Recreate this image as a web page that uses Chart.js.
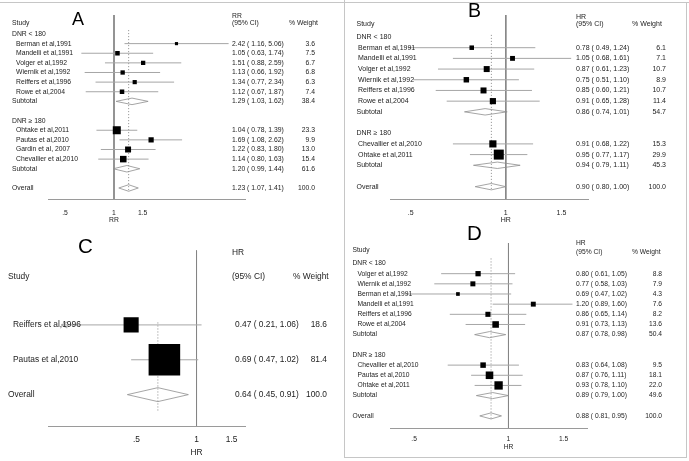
<!DOCTYPE html>
<html>
<head>
<meta charset="utf-8">
<script src="https://cdn.jsdelivr.net/npm/chart.js@4.4.1/dist/chart.umd.min.js"></script>
<style>
  body { margin: 0; background: #fff; }
  #page { position: relative; width: 689px; height: 461px; overflow: hidden; }
  canvas { position: absolute; }
  .rule { position: absolute; background: #c6c6c6; }
</style>
</head>
<body>
<div id="page">
  <div class="rule" style="left:0;top:2px;width:689px;height:1px"></div>
  <div class="rule" style="left:344px;top:0;width:1px;height:458px"></div>
  <div class="rule" style="left:686px;top:2px;width:1px;height:456px"></div>
  <div class="rule" style="left:344px;top:457px;width:343px;height:1px"></div>
  <canvas id="panelA" width="344" height="232" style="left:0;top:0"></canvas>
  <canvas id="panelB" width="344" height="228" style="left:345px;top:0"></canvas>
  <canvas id="panelC" width="344" height="233" style="left:0;top:228px"></canvas>
  <canvas id="panelD" width="344" height="243" style="left:345px;top:218px"></canvas>
</div>
<script>
// x axis ticks (log scale)
const xTicks = [0.5, 1, 1.5];
const xTickLabels = ['.5', '1', '1.5'];

// A - RR
const aLabels = ['DNR < 180', 'Berman et al,1991', 'Mandelli et al,1991', 'Volger et al,1992', 'Wiernik et al,1992', 'Reiffers et al,1996', 'Rowe et al,2004', 'Subtotal', '', 'DNR \u2265 180', 'Ohtake et al,2011', 'Pautas et al,2010', 'Gardin et al, 2007', 'Chevallier et al,2010', 'Subtotal', '', 'Overall'];
const aEst    = [null, 2.42, 1.05, 1.51, 1.13, 1.34, 1.12, 1.29, null, null, 1.04, 1.69, 1.22, 1.14, 1.20, null, 1.23];
const aLow    = [null, 1.16, 0.63, 0.88, 0.66, 0.77, 0.67, 1.03, null, null, 0.78, 1.08, 0.83, 0.80, 0.99, null, 1.07];
const aHigh   = [null, 5.06, 1.74, 2.59, 1.92, 2.34, 1.87, 1.62, null, null, 1.39, 2.62, 1.80, 1.63, 1.44, null, 1.41];
const aWeight = [null, 3.6, 7.5, 6.7, 6.8, 6.3, 7.4, 38.4, null, null, 23.3, 9.9, 13.0, 15.4, 61.6, null, 100.0];

// B - HR
const bLabels = ['DNR < 180', 'Berman et al,1991', 'Mandelli et al,1991', 'Volger et al,1992', 'Wiernik et al,1992', 'Reiffers et al,1996', 'Rowe et al,2004', 'Subtotal', '', 'DNR \u2265 180', 'Chevallier et al,2010', 'Ohtake et al,2011', 'Subtotal', '', 'Overall'];
const bEst    = [null, 0.78, 1.05, 0.87, 0.75, 0.85, 0.91, 0.86, null, null, 0.91, 0.95, 0.94, null, 0.90];
const bLow    = [null, 0.49, 0.68, 0.61, 0.51, 0.60, 0.65, 0.74, null, null, 0.68, 0.77, 0.79, null, 0.80];
const bHigh   = [null, 1.24, 1.61, 1.23, 1.10, 1.21, 1.28, 1.01, null, null, 1.22, 1.17, 1.11, null, 1.00];
const bWeight = [null, 6.1, 7.1, 10.7, 8.9, 10.7, 11.4, 54.7, null, null, 15.3, 29.9, 45.3, null, 100.0];

// C - HR
const cLabels = ['Reiffers et al,1996', 'Pautas et al,2010', 'Overall'];
const cEst    = [0.47, 0.69, 0.64];
const cLow    = [0.21, 0.47, 0.45];
const cHigh   = [1.06, 1.02, 0.91];
const cWeight = [18.6, 81.4, 100.0];
const cArrowLow = [true, false, false];

// D - HR
const dLabels = ['DNR < 180', 'Volger et al,1992', 'Wiernik et al,1992', 'Berman et al,1991', 'Mandelli et al,1991', 'Reiffers et al,1996', 'Rowe et al,2004', 'Subtotal', '', 'DNR \u2265 180', 'Chevallier et al,2010', 'Pautas et al,2010', 'Ohtake et al,2011', 'Subtotal', '', 'Overall'];
const dEst    = [null, 0.80, 0.77, 0.69, 1.20, 0.86, 0.91, 0.87, null, null, 0.83, 0.87, 0.93, 0.89, null, 0.88];
const dLow    = [null, 0.61, 0.58, 0.47, 0.89, 0.65, 0.73, 0.78, null, null, 0.64, 0.76, 0.78, 0.79, null, 0.81];
const dHigh   = [null, 1.05, 1.03, 1.02, 1.60, 1.14, 1.13, 0.98, null, null, 1.08, 1.11, 1.10, 1.00, null, 0.95];
const dWeight = [null, 8.8, 7.9, 4.3, 7.6, 8.2, 13.6, 50.4, null, null, 9.5, 18.1, 22.0, 49.6, null, 100.0];

const FONT = '"Liberation Sans", Arial, sans-serif';
const INK = '#1c1c1c';

function isPooled(name) {
  return name === 'Subtotal' || name === 'Overall';
}

// small "<" used where a CI runs past the plotted range
function makeArrowHead() {
  const c = document.createElement('canvas');
  c.width = 14;
  c.height = 8;
  const g = c.getContext('2d');
  g.strokeStyle = '#9a9a9a';
  g.lineWidth = 1;
  g.beginPath();
  g.moveTo(13, 1);
  g.lineTo(7, 4);
  g.lineTo(13, 7);
  g.stroke();
  return c;
}
const arrowHead = makeArrowHead();

function forestPlot(canvasId, labels, est, low, high, weight, look, arrows) {
  const ciPts = [];
  const boxPts = [];
  const diamondPts = [];
  const arrowPts = [];
  const last = labels.length - 1;

  labels.forEach((name, i) => {
    if (est[i] === null) return;
    if (isPooled(name)) {
      const h = look.diamond;
      diamondPts.push({x: low[i], y: i}, {x: est[i], y: i - h}, {x: high[i], y: i},
                      {x: est[i], y: i + h}, {x: low[i], y: i}, {x: null, y: null});
    } else {
      ciPts.push({x: low[i], y: i}, {x: high[i], y: i}, {x: null, y: null});
      boxPts.push({x: est[i], y: i, w: weight[i]});
      if (arrows && arrows[i]) arrowPts.push({x: low[i], y: i});
    }
  });

  const overall = est[last];

  const textPlugin = {
    id: 'forestText' + canvasId,
    afterDraw(chart) {
      const ctx = chart.ctx;
      const yScale = chart.scales.y;
      const xScale = chart.scales.x;
      ctx.save();
      ctx.fillStyle = INK;
      ctx.textBaseline = 'middle';
      ctx.font = look.font + 'px ' + FONT;
      labels.forEach((name, i) => {
        if (!name) return;
        const py = yScale.getPixelForValue(i);
        const study = est[i] !== null && !isPooled(name);
        ctx.textAlign = 'left';
        ctx.fillText(name, study ? look.nameX : look.groupX, py);
        if (est[i] !== null) {
          ctx.fillText(est[i].toFixed(2) + ' ( ' + low[i].toFixed(2) + ', ' + high[i].toFixed(2) + ')', look.ciX, py);
          ctx.textAlign = 'right';
          ctx.fillText(weight[i].toFixed(1), look.wtX, py);
        }
      });
      ctx.textAlign = 'left';
      look.headers.forEach(h => ctx.fillText(h[0], h[1], h[2]));
      // axis title sits under the null line
      ctx.textAlign = 'center';
      ctx.fillText(look.axisTitle, xScale.getPixelForValue(1), look.titleY);
      // panel letter
      ctx.textAlign = 'left';
      ctx.textBaseline = 'alphabetic';
      ctx.font = look.letter[3] + 'px ' + FONT;
      ctx.fillStyle = '#000';
      ctx.fillText(look.letter[0], look.letter[1], look.letter[2]);
      ctx.restore();
    }
  };

  return new Chart(document.getElementById(canvasId), {
    type: 'scatter',
    data: {
      datasets: [
        {
          data: boxPts,
          pointStyle: 'rect',
          pointRadius: c => look.box * Math.sqrt(c.raw.w) / Math.SQRT2,
          backgroundColor: '#000',
          borderWidth: 0,
          order: 0
        },
        {
          data: arrowPts,
          pointStyle: arrowHead,
          order: 0
        },
        {
          data: diamondPts,
          showLine: true,
          borderColor: '#8e8e8e',
          borderWidth: 0.8,
          pointRadius: 0,
          order: 1
        },
        {
          data: ciPts,
          showLine: true,
          borderColor: '#a6a6a6',
          borderWidth: 1,
          pointRadius: 0,
          order: 2
        },
        {
          data: [{x: 1, y: look.yMin}, {x: 1, y: look.yMax}],
          showLine: true,
          borderColor: '#858585',
          borderWidth: 1,
          pointRadius: 0,
          order: 3
        },
        {
          data: [{x: overall, y: look.dotFrom}, {x: overall, y: look.dotTo}],
          showLine: true,
          borderColor: '#8a8a8a',
          borderWidth: 1,
          borderDash: [1, 2],
          pointRadius: 0,
          order: 3
        }
      ]
    },
    options: {
      responsive: false,
      animation: false,
      devicePixelRatio: 1,
      events: [],
      layout: {padding: look.pad},
      plugins: {legend: {display: false}, tooltip: {enabled: false}},
      scales: {
        x: {
          type: 'logarithmic',
          bounds: 'data',
          min: look.xMin,
          max: look.xMax,
          grid: {display: false, drawTicks: false},
          border: {display: true, color: '#9a9a9a', width: 1},
          afterBuildTicks: s => { s.ticks = xTicks.map(v => ({value: v})); },
          afterFit: s => { s.height = look.scaleH; },
          ticks: {
            color: INK,
            font: {family: FONT, size: look.font},
            padding: look.tickPad,
            maxRotation: 0,
            autoSkip: false,
            callback: (v, i) => xTickLabels[i]
          },
          title: {display: false}
        },
        y: {
          type: 'linear',
          bounds: 'data',
          reverse: true,
          min: look.yMin,
          max: look.yMax,
          display: false
        }
      }
    },
    plugins: [textPlugin]
  });
}

forestPlot('panelA', aLabels, aEst, aLow, aHigh, aWeight, {
  pad: {left: 48, right: 99, top: 15, bottom: 7},
  scaleH: 26, tickPad: 10, axisTitle: 'RR', titleY: 220,
  xMin: 0.393, xMax: 6.38, yMin: -1.974, yMax: 17.143,
  font: 6.8, groupX: 12, nameX: 16, ciX: 232, wtX: 315,
  box: 1.66, diamond: 0.34, dotFrom: -0.4, dotTo: 16.4,
  headers: [['Study', 12, 23], ['RR', 232, 16], ['(95% CI)', 232, 23], ['% Weight', 289, 23]],
  letter: ['A', 72, 25, 18]
});

forestPlot('panelB', bLabels, bEst, bLow, bHigh, bWeight, {
  pad: {left: 45, right: 101, top: 15, bottom: 3},
  scaleH: 26, tickPad: 10, axisTitle: 'HR', titleY: 220,
  xMin: 0.43, xMax: 1.82, yMin: -2.058, yMax: 15.154,
  font: 7, groupX: 11.5, nameX: 13, ciX: 231, wtX: 321,
  box: 1.83, diamond: 0.3, dotFrom: -0.2, dotTo: 14.3,
  headers: [['Study', 11.5, 24], ['HR', 231, 17], ['(95% CI)', 231, 24], ['% Weight', 287, 24]],
  letter: ['B', 123, 17, 19.5]
});

forestPlot('panelC', cLabels, cEst, cLow, cHigh, cWeight, {
  pad: {left: 48, right: 99, top: 15, bottom: 2},
  scaleH: 33, tickPad: 9, axisTitle: 'HR', titleY: 225,
  xMin: 0.18, xMax: 1.75, yMin: -2.14, yMax: 2.9,
  font: 8.4, groupX: 8, nameX: 13, ciX: 235, wtX: 327,
  box: 3.5, diamond: 0.2, dotFrom: -0.07, dotTo: 2.5,
  headers: [['Study', 8, 49], ['HR', 232, 25], ['(95% CI)', 232, 49], ['% Weight', 293, 49]],
  letter: ['C', 78, 25, 20.5]
}, cArrowLow);

forestPlot('panelD', dLabels, dEst, dLow, dHigh, dWeight, {
  pad: {left: 45, right: 102, top: 25, bottom: 9},
  scaleH: 24, tickPad: 7, axisTitle: 'HR', titleY: 229,
  xMin: 0.419, xMax: 1.78, yMin: -2.02, yMax: 16.19,
  font: 6.7, groupX: 7.5, nameX: 12.5, ciX: 231, wtX: 317,
  box: 1.78, diamond: 0.3, dotFrom: -0.5, dotTo: 15.4,
  headers: [['Study', 7.5, 32], ['HR', 231, 25], ['(95% CI)', 231, 33.7], ['% Weight', 287, 33.7]],
  letter: ['D', 122, 22, 20.5]
});
</script>
</body>
</html>
